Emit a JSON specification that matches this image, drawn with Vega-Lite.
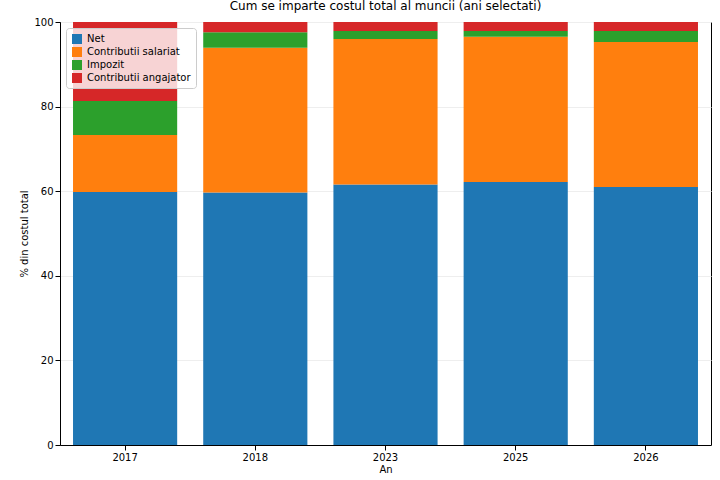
{
  "$schema": "https://vega.github.io/schema/vega-lite/v6.json",
  "width": 651,
  "height": 423,
  "padding": {"left": 60, "top": 22, "right": 9, "bottom": 35},
  "autosize": {"type": "none"},
  "title": {"text": "Cum se imparte costul total al muncii (ani selectati)", "font": "DejaVu Sans", "fontSize": 12, "fontWeight": "normal", "offset": 4},
  "config": {"font": "DejaVu Sans", "view": {"stroke": "black"}},
  "data": {"values": [
    {"an": "2017", "comp": "Net", "ord": 0, "v": 59.8},
    {"an": "2017", "comp": "Contributii salariat", "ord": 1, "v": 13.5},
    {"an": "2017", "comp": "Impozit", "ord": 2, "v": 8.0},
    {"an": "2017", "comp": "Contributii angajator", "ord": 3, "v": 18.7},
    {"an": "2018", "comp": "Net", "ord": 0, "v": 59.7},
    {"an": "2018", "comp": "Contributii salariat", "ord": 1, "v": 34.2},
    {"an": "2018", "comp": "Impozit", "ord": 2, "v": 3.7},
    {"an": "2018", "comp": "Contributii angajator", "ord": 3, "v": 2.4},
    {"an": "2023", "comp": "Net", "ord": 0, "v": 61.6},
    {"an": "2023", "comp": "Contributii salariat", "ord": 1, "v": 34.4},
    {"an": "2023", "comp": "Impozit", "ord": 2, "v": 1.9},
    {"an": "2023", "comp": "Contributii angajator", "ord": 3, "v": 2.1},
    {"an": "2025", "comp": "Net", "ord": 0, "v": 62.2},
    {"an": "2025", "comp": "Contributii salariat", "ord": 1, "v": 34.3},
    {"an": "2025", "comp": "Impozit", "ord": 2, "v": 1.4},
    {"an": "2025", "comp": "Contributii angajator", "ord": 3, "v": 2.1},
    {"an": "2026", "comp": "Net", "ord": 0, "v": 61.0},
    {"an": "2026", "comp": "Contributii salariat", "ord": 1, "v": 34.3},
    {"an": "2026", "comp": "Impozit", "ord": 2, "v": 2.6},
    {"an": "2026", "comp": "Contributii angajator", "ord": 3, "v": 2.1}
  ]},
  "mark": {"type": "bar"},
  "encoding": {
    "x": {"field": "an", "type": "ordinal", "title": "An", "scale": {"paddingInner": 0.2, "paddingOuter": 0.1},
      "axis": {"labelAngle": 0, "labelColor": "black", "titleColor": "black", "titleFontWeight": "normal", "titleFontSize": 10, "labelFontSize": 10, "domainColor": "black", "tickColor": "black", "titlePadding": 2}},
    "y": {"field": "v", "type": "quantitative", "stack": "zero", "title": "% din costul total", "scale": {"domain": [0, 100], "nice": false},
      "axis": {"values": [0, 20, 40, 60, 80, 100], "labelOverlap": false, "gridColor": "#eeeeee", "labelColor": "black", "titleColor": "black", "titleFontWeight": "normal", "titleFontSize": 10, "labelFontSize": 10, "domainColor": "black", "tickColor": "black"}},
    "order": {"field": "ord", "type": "quantitative"},
    "color": {"field": "comp", "type": "nominal", "title": null,
      "scale": {"domain": ["Net", "Contributii salariat", "Impozit", "Contributii angajator"], "range": ["#1f77b4", "#ff7f0e", "#2ca02c", "#d62728"]},
      "legend": {"orient": "top-left", "offset": 6, "symbolType": "square", "labelFontSize": 10, "labelColor": "black", "fillColor": "rgba(255,255,255,0.8)", "strokeColor": "#cccccc", "padding": 5, "cornerRadius": 3}}
  }
}
